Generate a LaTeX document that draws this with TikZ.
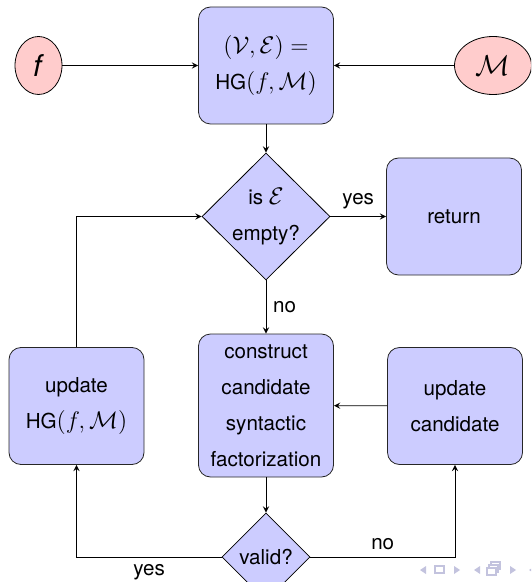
\documentclass[tikz,border=0pt]{standalone}
\usepackage{fontspec}
\setmainfont{TeX Gyre Heros}
\usepackage{tikz}
\usetikzlibrary{shapes.geometric}

\definecolor{navgray}{RGB}{195,195,222}

% slightly larger maths inside the boxes
\newcommand{\bm}[1]{{\fontsize{11.8}{18}\selectfont$#1$}}

\tikzset{
    block/.style={draw=black!85, fill=blue!20, rounded corners=6pt, align=center,
        minimum width=67.5pt, minimum height=58.5pt, inner sep=2pt},
    decision/.style={draw, fill=blue!20, diamond, aspect=1, align=center, inner sep=0pt},
    inputnode/.style={draw, fill=red!20, ellipse, inner sep=0pt, minimum height=29pt,
        font=\fontsize{15}{18}\selectfont},
    line/.style={draw, ->}
}

\begin{document}
\begin{tikzpicture}[x=0.5pt, y=-0.5pt, >=stealth, font=\fontsize{10.3}{18}\selectfont]
    \useasboundingbox (0,0) rectangle (531,582);
    \clip (0,0) rectangle (531,582);

    % Inputs and hypergraph
    \node[inputnode, minimum width=23.5pt] (f) at (38.5,65.5) {\textit{f}};
    \node[inputnode, minimum width=38.5pt] (M) at (493,65.5) {$\mathcal{M}$};
    \node[block] (hg) at (266,65.5) {\bm{(\mathcal{V},\mathcal{E})=}\\HG\bm{(f,\mathcal{M})}};

    % Main test
    \node[decision, minimum width=64pt, minimum height=63.5pt] (empty) at (266,216.5) {is \bm{\mathcal{E}}\\empty?};
    \node[block] (ret) at (454,216.5) {return};

    % Candidate loop
    \node[block, minimum height=71.5pt] (cons) at (266,405.5) {construct\\candidate\\syntactic\\factorization};
    \node[block] (updhg) at (76.5,406) {update\\HG\bm{(f,\mathcal{M})}};
    \node[block] (updcand) at (455,406) {update\\candidate};
    \node[decision, minimum width=44pt, minimum height=44pt] (valid) at (266,557) {valid?};

    % Arrows
    \path[line] (f) -- (hg);
    \path[line] (M) -- (hg);
    \path[line] (hg) -- (empty);
    \path[line] (empty) -- node[above] {yes} (ret);
    \path[line] (empty) -- node[right] {no} (cons);
    \path[line] (cons) -- (valid);
    \path[line] (valid.west) -| node[pos=0.25, below] {yes} (updhg.south);
    \path[line] (valid.east) -| node[pos=0.25, above] {no} (updcand.south);
    \path[line] (updhg.north) |- (empty.west);
    \path[line] (updcand) -- (cons);

    % Navigation symbols
    \fill[navgray] (426,566) -- (426,574) -- (420,570) -- cycle;
    \draw[navgray, line width=0.8pt] (435,566) rectangle (444,573);
    \fill[navgray] (454,566) -- (454,574) -- (460,570) -- cycle;
    \fill[navgray] (480,566) -- (480,574) -- (474,570) -- cycle;
    \draw[navgray, line width=0.8pt, fill=white] (491,562) rectangle (500,569);
    \draw[navgray, line width=0.8pt, fill=white] (489,565) rectangle (498,572);
    \draw[navgray, line width=0.8pt, fill=white] (487,568) rectangle (496,575);
    \fill[navgray] (510,566) -- (510,574) -- (516,570) -- cycle;
    \fill[navgray] (535,566) -- (535,574) -- (529,570) -- cycle;
\end{tikzpicture}
\end{document}
